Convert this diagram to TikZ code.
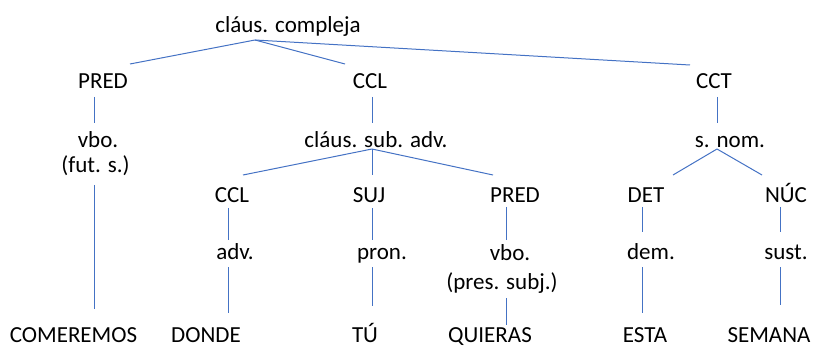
\documentclass[tikz,border=0pt]{standalone}
\usepackage{fontspec}
\setmainfont{Carlito}
\definecolor{edge}{HTML}{4472C4}
\begin{document}
\begin{tikzpicture}[x=1pt,y=-1pt,
  lbl/.style={anchor=base,inner sep=0pt,font=\fontsize{23}{27}\selectfont},
  word/.style={lbl,text depth=0pt},
  edgeline/.style={draw=edge,line width=1pt}]
\useasboundingbox (0,0) rectangle (813,347);
% text nodes
\node[lbl] (root) at (288,33) {cláus. compleja};
\node[lbl] (pred1) at (103,89) {PRED};
\node[lbl] (ccl1) at (370,89) {CCL};
\node[lbl] (cct) at (714,89) {CCT};
\node[lbl] (vbo1) at (98,148) {vbo.};
\node[lbl] (fut) at (95.5,173) {(fut. s.)};
\node[lbl] (csa) at (376,148) {cláus. sub. adv.};
\node[lbl] (snom) at (730,148) {s. nom.};
\node[lbl] (ccl2) at (232,203) {CCL};
\node[lbl] (suj) at (369,203) {SUJ};
\node[lbl] (pred2) at (515,203) {PRED};
\node[lbl] (det) at (646,203) {DET};
\node[lbl] (nuc) at (786,203) {NÚC};
\node[lbl] (adv) at (235,259) {adv.};
\node[lbl] (pron) at (382,259) {pron.};
\node[lbl] (vbo2) at (510,260) {vbo.};
\node[lbl] (pres) at (502,289) {(pres. subj.)};
\node[lbl] (dem) at (651,259) {dem.};
\node[lbl] (sust) at (786,259) {sust.};
\node[word] (w1) at (73.5,342) {COMEREMOS};
\node[word] (w2) at (206,342) {DONDE};
\node[word] (w3) at (365,342) {TÚ};
\node[word] (w4) at (490,342) {QUIERAS};
\node[word] (w5) at (645,342) {ESTA};
\node[word] (w6) at (769,342) {SEMANA};
% connector end points
\coordinate (rootB) at (255,40);
\coordinate (pred1T) at (130,64);
\coordinate (ccl1T) at (345,64);
\coordinate (cctT) at (690,65);
\coordinate (pred1B) at (94,97);
\coordinate (vbo1T) at (94,123);
\coordinate (ccl1B) at (372,97);
\coordinate (csaT) at (372,123);
\coordinate (cctB) at (717,97);
\coordinate (snomT) at (717,123);
\coordinate (futB) at (94,185);
\coordinate (w1T) at (94,309);
\coordinate (csaB) at (372,149);
\coordinate (ccl2T) at (243,175);
\coordinate (sujT) at (372,175);
\coordinate (pred2T) at (493,175);
\coordinate (snomB) at (717,149);
\coordinate (detT) at (673,175);
\coordinate (nucT) at (762,175);
\coordinate (ccl2B) at (228,208);
\coordinate (advT) at (228,240);
\coordinate (sujB) at (372,208);
\coordinate (pronT) at (372,240);
\coordinate (pred2B) at (506,207);
\coordinate (vbo2T) at (506,240);
\coordinate (detB) at (642,207);
\coordinate (demT) at (642,232);
\coordinate (nucB) at (780,207);
\coordinate (sustT) at (780,232);
\coordinate (advB) at (228,267);
\coordinate (w2T) at (228,313);
\coordinate (pronB) at (372,267);
\coordinate (w3T) at (372,306);
\coordinate (presB) at (506,298);
\coordinate (w4T) at (506,325);
\coordinate (demB) at (642,267);
\coordinate (w5T) at (642,313);
\coordinate (sustB) at (780,267);
\coordinate (w6T) at (780,305);
% connectors
\draw[edgeline] (rootB) -- (pred1T);
\draw[edgeline] (rootB) -- (ccl1T);
\draw[edgeline] (rootB) -- (cctT);
\draw[edgeline] (pred1B) -- (vbo1T);
\draw[edgeline] (ccl1B) -- (csaT);
\draw[edgeline] (cctB) -- (snomT);
\draw[edgeline] (futB) -- (w1T);
\draw[edgeline] (csaB) -- (ccl2T);
\draw[edgeline] (csaB) -- (sujT);
\draw[edgeline] (csaB) -- (pred2T);
\draw[edgeline] (snomB) -- (detT);
\draw[edgeline] (snomB) -- (nucT);
\draw[edgeline] (ccl2B) -- (advT);
\draw[edgeline] (sujB) -- (pronT);
\draw[edgeline] (pred2B) -- (vbo2T);
\draw[edgeline] (detB) -- (demT);
\draw[edgeline] (nucB) -- (sustT);
\draw[edgeline] (advB) -- (w2T);
\draw[edgeline] (pronB) -- (w3T);
\draw[edgeline] (presB) -- (w4T);
\draw[edgeline] (demB) -- (w5T);
\draw[edgeline] (sustB) -- (w6T);
\end{tikzpicture}
\end{document}
